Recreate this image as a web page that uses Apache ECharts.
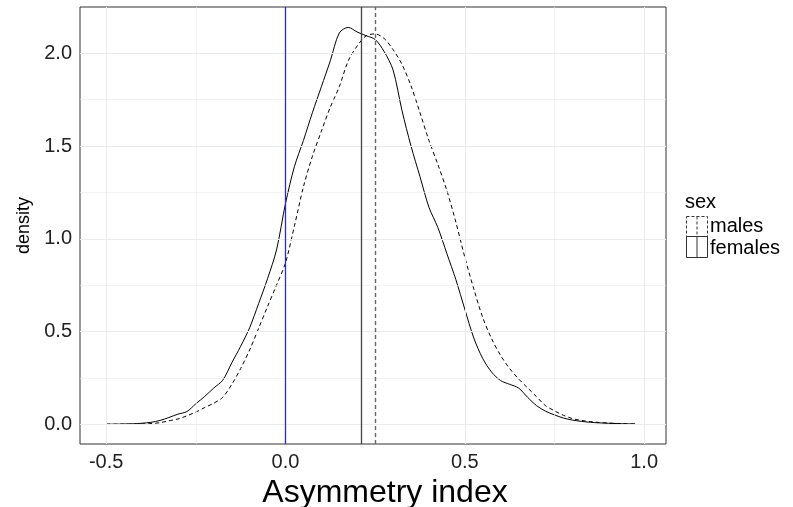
<!DOCTYPE html>
<html>
<head>
<meta charset="utf-8">
<script src="https://cdn.jsdelivr.net/npm/echarts/dist/echarts.min.js"></script>
<style>
  html, body { margin: 0; padding: 0; background: #fff; }
  #chart { width: 793px; height: 507px; }
</style>
</head>
<body>
<div id="chart"></div>
<script>
// asymmetry index grid used for the density curves
var xs = [-0.5, -0.475, -0.45, -0.425, -0.4, -0.375, -0.35, -0.325, -0.3, -0.275,
  -0.25, -0.225, -0.2, -0.175, -0.15, -0.125, -0.1, -0.075, -0.05, -0.025,
  0, 0.025, 0.05, 0.075, 0.1, 0.125, 0.15, 0.175, 0.2, 0.225,
  0.25, 0.275, 0.3, 0.325, 0.35, 0.375, 0.4, 0.425, 0.45, 0.475,
  0.5, 0.525, 0.55, 0.575, 0.6, 0.625, 0.65, 0.675, 0.7, 0.725,
  0.75, 0.775, 0.8, 0.825, 0.85, 0.875, 0.9, 0.925, 0.95, 0.975];

var females = [0, 0, 0.001, 0.002, 0.005, 0.01, 0.02, 0.036, 0.054, 0.068,
  0.11, 0.15, 0.195, 0.237, 0.33, 0.42, 0.52, 0.65, 0.785, 0.94,
  1.19, 1.39, 1.53, 1.68, 1.82, 1.96, 2.11, 2.14, 2.115, 2.095,
  2.075, 2.01, 1.91, 1.69, 1.50, 1.335, 1.17, 1.06, 0.92, 0.78,
  0.62, 0.465, 0.354, 0.28, 0.235, 0.215, 0.195, 0.145, 0.10, 0.07,
  0.05, 0.033, 0.022, 0.015, 0.01, 0.007, 0.005, 0.003, 0.002, 0.001];

var males = [0, 0, 0, 0, 0.001, 0.003, 0.008, 0.018, 0.028, 0.045,
  0.065, 0.09, 0.113, 0.145, 0.214, 0.30, 0.40, 0.517, 0.635, 0.75,
  0.87, 1.07, 1.28, 1.445, 1.58, 1.71, 1.82, 1.96, 2.04, 2.095,
  2.105, 2.08, 2.02, 1.94, 1.825, 1.68, 1.53, 1.40, 1.26, 1.09,
  0.90, 0.73, 0.575, 0.46, 0.37, 0.30, 0.244, 0.196, 0.148, 0.10,
  0.072, 0.048, 0.03, 0.02, 0.014, 0.009, 0.006, 0.004, 0.002, 0.001];

var femaleMean = 0.212;
var maleMean = 0.25;
var refLine = 0;

var xTicks = [-0.5, 0, 0.5, 1.0];
var xMinor = [-0.25, 0.25, 0.75];
var yTicks = [0, 0.5, 1.0, 1.5, 2.0];
var yMinor = [0.25, 0.75, 1.25, 1.75];

var font = 'Liberation Sans, Arial, sans-serif';

function pairs(ys) {
  return xs.map(function (x, i) { return [x, ys[i]]; });
}

var chart = echarts.init(document.getElementById('chart'));

var gridLines = [];
xTicks.forEach(function (v) { gridLines.push({ xAxis: v, lineStyle: { width: 1 } }); });
xMinor.forEach(function (v) { gridLines.push({ xAxis: v, lineStyle: { width: 0.6 } }); });
yTicks.forEach(function (v) { gridLines.push({ yAxis: v, lineStyle: { width: 1 } }); });
yMinor.forEach(function (v) { gridLines.push({ yAxis: v, lineStyle: { width: 0.6 } }); });

chart.setOption({
  animation: false,
  grid: {
    left: 80, right: 127, top: 7, bottom: 63,
    outerBoundsMode: 'none',
    containLabel: false,
    show: true,
    borderColor: '#333',
    borderWidth: 1
  },
  xAxis: {
    type: 'value',
    min: -0.573,
    max: 1.061,
    name: 'Asymmetry index',
    nameLocation: 'middle',
    nameGap: 22,
    nameTextStyle: { fontFamily: font, fontSize: 32, color: '#000', padding: [0, 0, 0, 24] },
    axisLine: { show: false },
    splitLine: { show: false },
    axisTick: { show: true, length: 4, customValues: xTicks, lineStyle: { color: '#333' } },
    axisLabel: {
      customValues: xTicks,
      margin: 8,
      fontFamily: font,
      fontSize: 20,
      color: '#222',
      formatter: function (v) { return v.toFixed(1); }
    }
  },
  yAxis: {
    type: 'value',
    min: -0.107,
    max: 2.25,
    name: 'density',
    nameLocation: 'middle',
    nameGap: 42,
    nameTextStyle: { fontFamily: font, fontSize: 18, color: '#000' },
    axisLine: { show: false },
    splitLine: { show: false },
    axisTick: { show: true, length: 4, customValues: yTicks, lineStyle: { color: '#333' } },
    axisLabel: {
      customValues: yTicks,
      margin: 8,
      fontFamily: font,
      fontSize: 20,
      color: '#222',
      formatter: function (v) { return v.toFixed(1); }
    }
  },
  series: [
    {
      // background grid
      type: 'line',
      data: [],
      z: 0,
      silent: true,
      markLine: {
        silent: true,
        symbol: ['none', 'none'],
        label: { show: false },
        lineStyle: { color: '#ebebeb', type: 'solid' },
        data: gridLines
      }
    },
    {
      name: 'females',
      type: 'line',
      data: pairs(females),
      showSymbol: false,
      smooth: 0.3,
      z: 3,
      lineStyle: { color: '#000', width: 1, type: 'solid' }
    },
    {
      name: 'males',
      type: 'line',
      data: pairs(males),
      showSymbol: false,
      smooth: 0.3,
      z: 3,
      lineStyle: { color: '#000', width: 1, type: [4, 3] }
    },
    {
      type: 'line',
      data: [],
      z: 4,
      markLine: {
        silent: true,
        symbol: ['none', 'none'],
        label: { show: false },
        data: [
          { xAxis: femaleMean, lineStyle: { color: '#444', width: 1.3, type: 'solid' } },
          { xAxis: maleMean, lineStyle: { color: '#666', width: 1.4, type: [4, 3] } },
          { xAxis: refLine, lineStyle: { color: '#2b2bd6', width: 1.3, type: 'solid' } }
        ]
      }
    }
  ],
  graphic: [
    { type: 'text', left: 685, top: 192, style: { text: 'sex', font: '20px ' + font, fill: '#000' } },
    { type: 'rect', shape: { x: 686.5, y: 216.5, width: 21, height: 20 },
      style: { fill: 'none', stroke: '#333', lineWidth: 1, lineDash: [3, 2] } },
    { type: 'line', shape: { x1: 697, y1: 216.5, x2: 697, y2: 236.5 },
      style: { stroke: '#333', lineWidth: 1, lineDash: [3, 2] } },
    { type: 'rect', shape: { x: 686.5, y: 236.5, width: 21, height: 21 },
      style: { fill: 'none', stroke: '#333', lineWidth: 1 } },
    { type: 'line', shape: { x1: 697, y1: 236.5, x2: 697, y2: 257.5 },
      style: { stroke: '#333', lineWidth: 1 } },
    { type: 'text', left: 710, top: 216, style: { text: 'males', font: '20px ' + font, fill: '#000' } },
    { type: 'text', left: 710, top: 238, style: { text: 'females', font: '20px ' + font, fill: '#000' } }
  ]
});
</script>
</body>
</html>
